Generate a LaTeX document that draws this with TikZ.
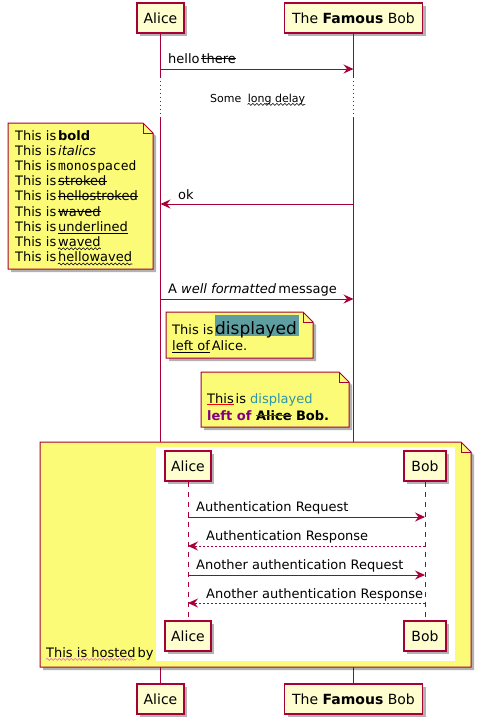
\documentclass[tikz,border=0pt]{standalone}
\usepackage{fontspec}
\setmainfont{DejaVu Sans}
\setmonofont{DejaVu Sans Mono}
\usetikzlibrary{shadows,arrows.meta,decorations.pathmorphing}
\definecolor{pborder}{HTML}{A80036}
\definecolor{pfill}{HTML}{FEFECE}
\definecolor{nfill}{HTML}{FBFB77}
\definecolor{hlbg}{HTML}{5F9EA0}
\definecolor{tealtxt}{HTML}{2E95A8}
\definecolor{purp}{HTML}{800080}
\definecolor{pinkw}{HTML}{FF66FF}
\newcommand\drawnote[4]{%
  \path[notebg] (#1,#2) -- ({#3-10},#2) -- (#3,{#2+10}) -- (#3,#4) -- (#1,#4) -- cycle;
  \draw[pborder,line width=1pt] ({#3-10},#2) -- ({#3-10},{#2+10}) -- (#3,{#2+10});}
\newcommand\strk[2][black]{\draw[#1,line width=0.9pt] ([yshift=4.3pt]#2.base west) -- ([yshift=4.3pt]#2.base east);}
\newcommand\undl[2][black]{\draw[#1,line width=0.9pt] ([yshift=-1.8pt]#2.base west) -- ([yshift=-1.8pt]#2.base east);}
\newcommand\wavy[2][black]{\draw[#1,line width=0.6pt,decorate,decoration={snake,amplitude=1pt,segment length=4pt}] ([yshift=-2.4pt]#2.base west) -- ([yshift=-2.4pt]#2.base east);}
\begin{document}
\begin{tikzpicture}[x=1pt,y=-1pt,
  shad/.style={drop shadow={shadow xshift=3pt,shadow yshift=-3pt,opacity=0.3,fill=black}},
  part/.style={draw=pborder,fill=pfill,line width=1.2pt,minimum height=30pt,inner sep=0pt,
    font=\fontsize{14}{16}\selectfont,shad},
  life/.style={draw=pborder,line width=1pt},
  msg/.style={draw=pborder,line width=1pt,-{Stealth[length=10pt,width=9pt,inset=3.5pt]}},
  rmsg/.style={msg,dash pattern=on 2pt off 2pt},
  lbl/.style={anchor=base west,inner sep=0pt,font=\fontsize{13}{15}\selectfont},
  nx/.style={lbl,xshift=1.5pt},
  sp/.style={lbl,xshift=4.1pt},
  notebg/.style={fill=nfill,draw=pborder,line width=1pt,shad},
]
\useasboundingbox (0,0) rectangle (481,724);
% participants
\node[part,minimum width=47pt] (aT) at (160.5,18) {Alice};
\node[part,minimum width=138pt] (bT) at (353.5,18) {The \textbf{Famous} Bob};
\node[part,minimum width=47pt] (aB) at (160.5,699) {Alice};
\node[part,minimum width=138pt] (bB) at (353.5,699) {The \textbf{Famous} Bob};
% lifelines
\coordinate (aD1) at (160.5,77); \coordinate (aD2) at (160.5,118);
\coordinate (bD1) at (353.5,77); \coordinate (bD2) at (353.5,118);
\draw[life] (aT.south) -- (aD1);
\draw[life,dash pattern=on 1pt off 3pt] (aD1) -- (aD2);
\draw[life] (aD2) -- (aB.north);
\draw[life] (bT.south) -- (bD1);
\draw[life,dash pattern=on 1pt off 3pt] (bD1) -- (bD2);
\draw[life] (bD2) -- (bB.north);
% messages
\coordinate (a1) at (160.5,69); \coordinate (b1) at (353.5,69);
\draw[msg] (a1) -- (b1);
\node[lbl] (t1a) at (168,63) {hello};
\node[nx] (t1b) at (t1a.base east) {there}; \strk{t1b}
\node[anchor=base west,inner sep=0pt,font=\fontsize{11}{13}\selectfont] (dla) at (210,102) {Some};
\node[anchor=base west,inner sep=0pt,font=\fontsize{11}{13}\selectfont,xshift=6pt] (dlb) at (dla.base east) {long delay};
\wavy{dlb}
\coordinate (a2) at (160.5,204); \coordinate (b2) at (353.5,204);
\draw[msg] (b2) -- (a2);
\node[lbl] (t2) at (178,199) {ok};
\coordinate (a3) at (160.5,299); \coordinate (b3) at (353.5,299);
\draw[msg] (a3) -- (b3);
\node[lbl] (t3) at (168,293) {A \textit{well formatted}\,message};
% note 1
\drawnote{8}{123}{153}{269}
\node[lbl] (l1a) at (15,140) {This is}; \node[nx] (l1b) at (l1a.base east) {\textbf{bold}};
\node[lbl] (l2a) at (15,155.2) {This is}; \node[nx] (l2b) at (l2a.base east) {\textit{italics}};
\node[lbl] (l3a) at (15,170.4) {This is}; \node[nx] (l3b) at (l3a.base east) {\texttt{monospaced}};
\node[lbl] (l4a) at (15,185.6) {This is}; \node[nx] (l4b) at (l4a.base east) {stroked}; \strk{l4b}
\node[lbl] (l5a) at (15,200.8) {This is}; \node[nx] (l5b) at (l5a.base east) {hellostroked}; \strk{l5b}
\node[lbl] (l6a) at (15,216) {This is}; \node[nx] (l6b) at (l6a.base east) {waved}; \strk{l6b}
\node[lbl] (l7a) at (15,231.2) {This is}; \node[nx] (l7b) at (l7a.base east) {underlined}; \undl{l7b}
\node[lbl] (l8a) at (15,246.4) {This is}; \node[nx] (l8b) at (l8a.base east) {waved}; \wavy{l8b}
\node[lbl] (l9a) at (15,261.6) {This is}; \node[nx] (l9b) at (l9a.base east) {hellowaved}; \wavy{l9b}
% note 2
\drawnote{166}{312}{313}{358}
\fill[hlbg] (215,315) rectangle (299,336);
\node[lbl] (n2a) at (172,334.5) {This is};
\node[lbl,font=\fontsize{17}{17}\selectfont,xshift=1.5pt] (n2b) at (n2a.base east) {displayed};
\node[lbl] (n2c) at (172,350.5) {left of}; \undl{n2c}
\node[nx] (n2d) at (n2c.base east) {Alice.};
% note 3
\drawnote{201}{372}{349}{427}
\node[lbl] (n3a) at (207,403) {This}; \undl[red]{n3a}
\node[nx] (n3b) at (n3a.base east) {is \textcolor{tealtxt}{displayed}};
\node[lbl] (n3c) at (207,420) {\textcolor{purp}{\textbf{left of}}};
\node[sp] (n3d) at (n3c.base east) {\textbf{Alice}}; \strk[red]{n3d}
\node[sp] (n3e) at (n3d.base east) {\textbf{Bob.}};
% big note
\drawnote{40}{442}{471}{667}
\fill[white] (156,447) rectangle (455,661);
\node[part,minimum width=46pt] (iA) at (188,466) {Alice};
\node[part,minimum width=42pt] (iB) at (425,466) {Bob};
\node[part,minimum width=46pt] (iA2) at (188,636) {Alice};
\node[part,minimum width=42pt] (iB2) at (425,636) {Bob};
\draw[life,dash pattern=on 5pt off 5pt] (iA.south) -- (iA2.north);
\draw[life,dash pattern=on 5pt off 5pt] (iB.south) -- (iB2.north);
\coordinate (ia1) at (188,517); \coordinate (ib1) at (425,517);
\coordinate (ia2) at (188,546); \coordinate (ib2) at (425,546);
\coordinate (ia3) at (188,575); \coordinate (ib3) at (425,575);
\coordinate (ia4) at (188,603); \coordinate (ib4) at (425,603);
\draw[msg] (ia1) -- (ib1);
\draw[rmsg] (ib2) -- (ia2);
\draw[msg] (ia3) -- (ib3);
\draw[rmsg] (ib4) -- (ia4);
\node[lbl] (m1) at (196,511) {Authentication Request};
\node[lbl] (m2) at (206,540) {Authentication Response};
\node[lbl] (m3) at (196,569) {Another authentication Request};
\node[lbl] (m4) at (206,598) {Another authentication Response};
\node[lbl] (h1) at (46,657) {This is hosted}; \wavy[pinkw]{h1}
\node[nx] (h2) at (h1.base east) {by};
\end{tikzpicture}
\end{document}
